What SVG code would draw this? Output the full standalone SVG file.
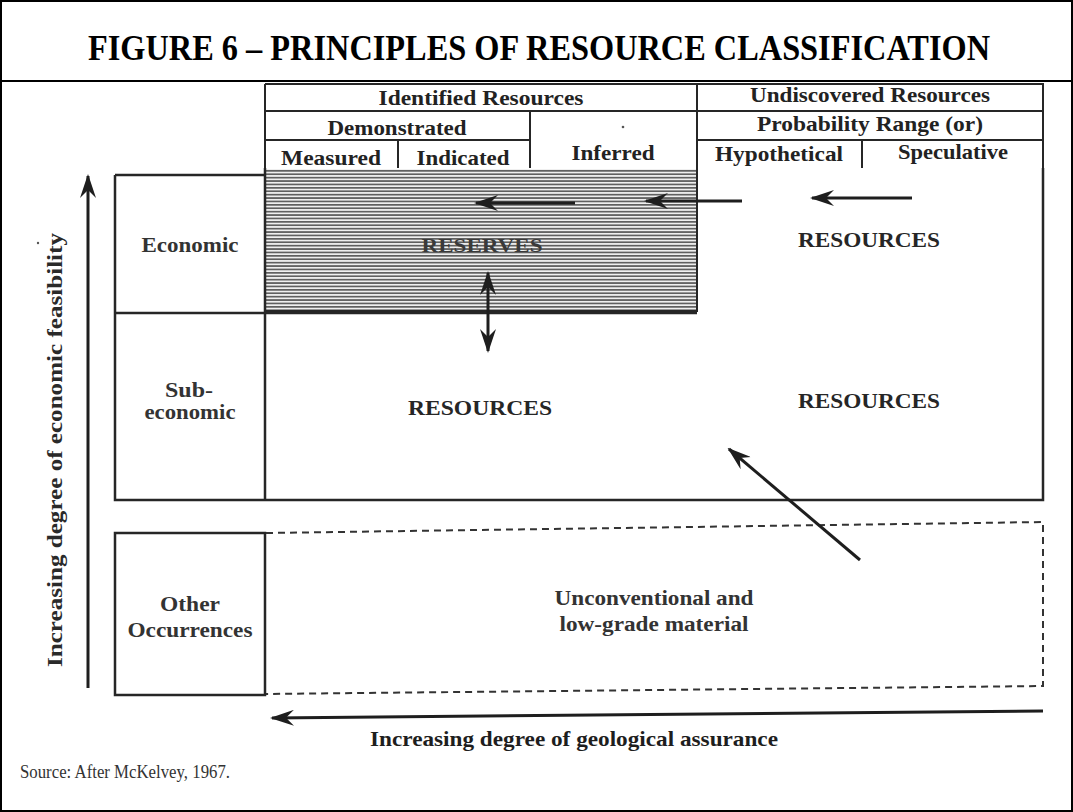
<svg xmlns="http://www.w3.org/2000/svg" width="1073" height="812" viewBox="0 0 1073 812">
  <style>
    .frame { fill: none; stroke: #000; stroke-width: 2; }
    .ln { fill: none; stroke: #262626; stroke-width: 2.5; }
    .thin { fill: none; stroke: #262626; stroke-width: 2; }
    .dash { fill: none; stroke: #333; stroke-width: 2; stroke-dasharray: 7 5; }
    .hd { font-family: "Liberation Serif", serif; font-weight: bold; font-size: 21px; fill: #222; text-anchor: middle; }
    .lbl { font-family: "Liberation Serif", serif; font-weight: bold; font-size: 20px; fill: #333; text-anchor: middle; }
    .big { font-family: "Liberation Serif", serif; font-weight: bold; font-size: 20px; fill: #262626; text-anchor: middle; }
    .arr { fill: none; stroke: #1e1e1e; stroke-width: 3; }
  </style>
  <defs>
    <pattern id="hatch" patternUnits="userSpaceOnUse" width="8" height="3.4">
      <rect width="8" height="3.4" fill="#efefef"/>
      <rect y="0" width="8" height="1.7" fill="#606060"/>
    </pattern>
    <marker id="head" viewBox="0 0 24 16" refX="22" refY="8" markerWidth="24" markerHeight="16" markerUnits="userSpaceOnUse" orient="auto-start-reverse">
      <path d="M24,8 L0,0 L8,8 L0,16 Z" fill="#1e1e1e"/>
    </marker>
  </defs>

  <!-- page frame and title -->
  <rect class="frame" x="1" y="1" width="1071" height="810"/>
  <line class="frame" x1="0" y1="81" x2="1073" y2="81"/>
  <text x="539" y="60" font-family="Liberation Serif, serif" font-weight="bold" font-size="35" fill="#000" text-anchor="middle" textLength="902" lengthAdjust="spacingAndGlyphs">FIGURE 6 – PRINCIPLES OF RESOURCE CLASSIFICATION</text>

  <!-- header table -->
  <g id="header">
    <path class="thin" d="M265,84 H1043 V168 M265,84 V168 M697,84 V168 M265,111 H1043 M530,111 V168 M265,140 H530 M697,140 H1043 M398,140 V168 M862,140 V168"/>
    <text class="hd" x="481" y="105" textLength="205" lengthAdjust="spacingAndGlyphs">Identified Resources</text>
    <text class="hd" x="870" y="102" textLength="240" lengthAdjust="spacingAndGlyphs">Undiscovered Resources</text>
    <text class="hd" x="397" y="135" textLength="139" lengthAdjust="spacingAndGlyphs">Demonstrated</text>
    <text class="hd" x="870" y="131" textLength="226" lengthAdjust="spacingAndGlyphs">Probability Range (or)</text>
    <text class="hd" x="331" y="165" textLength="100" lengthAdjust="spacingAndGlyphs">Measured</text>
    <text class="hd" x="463" y="165" textLength="93" lengthAdjust="spacingAndGlyphs">Indicated</text>
    <text class="hd" x="613" y="160" textLength="83" lengthAdjust="spacingAndGlyphs">Inferred</text>
    <circle cx="623" cy="127" r="1.3" fill="#555"/>
    <text class="hd" x="779" y="161" textLength="128" lengthAdjust="spacingAndGlyphs">Hypothetical</text>
    <text class="hd" x="953" y="159" textLength="110" lengthAdjust="spacingAndGlyphs">Speculative</text>
  </g>

  <!-- economic / sub-economic grid -->
  <g id="reserves">
    <rect x="266" y="169" width="431" height="141" fill="url(#hatch)"/>
    <path class="thin" d="M697,168 V311 H266"/>
    <text x="482" y="252" font-family="Liberation Serif, serif" font-weight="bold" font-size="19" fill="#3a3a3a" text-anchor="middle" textLength="121" lengthAdjust="spacingAndGlyphs">RESERVES</text>
  </g>
  <g id="grid">
    <path class="ln" d="M115,175 H265 M115,175 V500 H1043 V168 M265,168 V500 M115,313 H697"/>
  </g>
  <g id="economic"><text class="lbl" x="190" y="252" textLength="97" lengthAdjust="spacingAndGlyphs">Economic</text></g>
  <g id="subeconomic">
    <text class="lbl" x="189" y="397" textLength="48" lengthAdjust="spacingAndGlyphs">Sub-</text>
    <text class="lbl" x="190" y="419" textLength="91" lengthAdjust="spacingAndGlyphs">economic</text>
  </g>
  <g id="resources-left"><text class="big" x="480" y="415" textLength="144" lengthAdjust="spacingAndGlyphs">RESOURCES</text></g>
  <g id="resources-right-top"><text class="big" x="869" y="247" textLength="142" lengthAdjust="spacingAndGlyphs">RESOURCES</text></g>
  <g id="resources-right-bottom"><text class="big" x="869" y="408" textLength="142" lengthAdjust="spacingAndGlyphs">RESOURCES</text></g>

  <!-- other occurrences -->
  <g id="other">
    <path class="ln" d="M115,533 H265 V695 H115 Z"/>
    <text class="lbl" x="190" y="611" textLength="60" lengthAdjust="spacingAndGlyphs">Other</text>
    <text class="lbl" x="190" y="637" textLength="125" lengthAdjust="spacingAndGlyphs">Occurrences</text>
  </g>
  <g id="unconventional">
    <path class="dash" d="M266,533 L1043,522 L1043,686 L266,694"/>
    <text class="lbl" x="654" y="605" textLength="199" lengthAdjust="spacingAndGlyphs">Unconventional and</text>
    <text class="lbl" x="654" y="631" textLength="189" lengthAdjust="spacingAndGlyphs">low-grade material</text>
  </g>

  <!-- connectors -->
  <g id="connectors">
    <line class="arr" x1="575" y1="203" x2="476" y2="203" marker-end="url(#head)"/>
    <line class="arr" x1="742" y1="201" x2="646" y2="201" marker-end="url(#head)"/>
    <line class="arr" x1="912" y1="198" x2="812" y2="198" marker-end="url(#head)"/>
    <line class="arr" x1="488" y1="273" x2="488" y2="351" stroke-width="2.5" marker-start="url(#head)" marker-end="url(#head)"/>
    <line class="arr" x1="860" y1="560" x2="729" y2="449" stroke-width="2.5" marker-end="url(#head)"/>
    <line class="arr" x1="88" y1="688" x2="88" y2="176" stroke-width="2.5" marker-end="url(#head)"/>
    <line class="arr" x1="1043" y1="711" x2="272" y2="718" stroke-width="3" marker-end="url(#head)"/>
  </g>

  <!-- axis captions -->
  <text x="55" y="450" transform="rotate(-90 55 450)" dy="7" font-family="Liberation Serif, serif" font-weight="bold" font-size="22" fill="#2a2a2a" text-anchor="middle" textLength="434" lengthAdjust="spacingAndGlyphs">Increasing degree of economic feasibility</text>
  <circle cx="38" cy="243" r="1.2" fill="#555"/>
  <text x="574" y="746" font-family="Liberation Serif, serif" font-weight="bold" font-size="22" fill="#1e1e1e" text-anchor="middle" textLength="408" lengthAdjust="spacingAndGlyphs">Increasing degree of geological assurance</text>
  <text x="20" y="778" font-family="Liberation Serif, serif" font-size="19" fill="#333" textLength="210" lengthAdjust="spacingAndGlyphs">Source: After McKelvey, 1967.</text>
</svg>
